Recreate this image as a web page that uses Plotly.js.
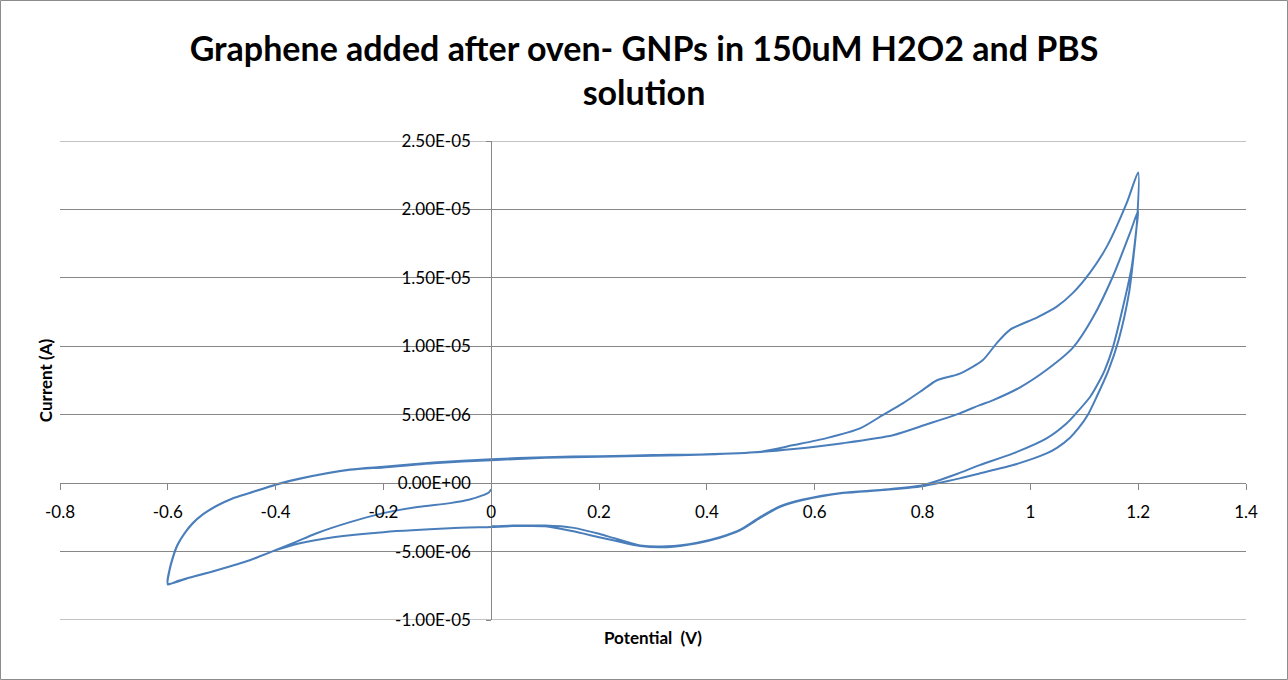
<!DOCTYPE html>
<html>
<head>
<meta charset="utf-8">
<script src="https://cdn.plot.ly/plotly-3.0.1.min.js"></script>
<style>
html,body{margin:0;padding:0;background:#fff;}
#chart{width:1288px;height:680px;}
</style>
</head>
<body>
<div id="chart"></div>
<script>
// Potential (V) and current (A), in scan order
var potential = [
  // initial scan from 0 V towards -0.6 V
  0.0, -0.005, -0.015, -0.04, -0.076, -0.137, -0.2, -0.262, -0.324, -0.368, -0.405, -0.448, -0.509, -0.559, -0.585, -0.6,
  // cycle 1 forward scan
  -0.597, -0.591, -0.582, -0.569, -0.554, -0.535, -0.51, -0.48, -0.448, -0.398, -0.355, -0.262, -0.2, -0.107, 0.0, 0.1, 0.2, 0.3, 0.4, 0.5,
  0.561, 0.622, 0.684, 0.726, 0.764, 0.8, 0.826, 0.869, 0.912, 0.937, 0.962, 1.012, 1.049, 1.079, 1.111, 1.142, 1.179, 1.2,
  // cycle 1 reverse scan
  1.198, 1.192, 1.183, 1.164, 1.145, 1.123, 1.107, 1.09, 1.073, 1.05, 1.03, 0.968, 0.906, 0.869, 0.8, 0.726, 0.652, 0.578, 0.535, 0.498, 0.462,
  0.424, 0.382, 0.326, 0.276, 0.226, 0.2, 0.15, 0.1, 0.041, 0.0, -0.077, -0.2, -0.293, -0.355, -0.405, -0.448, -0.509, -0.559, -0.6,
  // cycle 2 forward scan
  -0.597, -0.591, -0.582, -0.569, -0.554, -0.535, -0.51, -0.48, -0.448, -0.398, -0.355, -0.262, -0.2, -0.107, 0.0, 0.1, 0.2, 0.3, 0.4, 0.5,
  0.561, 0.652, 0.745, 0.808, 0.869, 0.906, 0.93, 0.981, 1.031, 1.079, 1.116, 1.153, 1.185, 1.2,
  // cycle 2 reverse scan
  1.197, 1.188, 1.172, 1.153, 1.138, 1.129, 1.111, 1.083, 1.067, 1.03, 0.968, 0.906, 0.869, 0.8, 0.726, 0.652, 0.578, 0.535, 0.498, 0.462,
  0.424, 0.382, 0.326, 0.276, 0.226, 0.2, 0.15, 0.1, 0.041, 0.0
];
var current = [
  -0.45e-6, -0.7e-6, -0.88e-6, -1.2e-6, -1.46e-6, -1.75e-6, -2.19e-6, -2.85e-6, -3.66e-6, -4.39e-6, -4.97e-6, -5.63e-6, -6.36e-6, -6.9e-6, -7.2e-6, -7.4e-6,
  -6.4e-6, -5.5e-6, -4.53e-6, -3.68e-6, -2.95e-6, -2.29e-6, -1.68e-6, -1.12e-6, -0.71e-6, -0.07e-6, 0.34e-6, 1.0e-6, 1.2e-6, 1.5e-6, 1.75e-6, 1.9e-6, 1.97e-6, 2.05e-6, 2.12e-6, 2.3e-6,
  2.78e-6, 3.29e-6, 4.0e-6, 4.97e-6, 5.85e-6, 6.8e-6, 7.5e-6, 8.0e-6, 9.0e-6, 10.2e-6, 11.2e-6, 12.1e-6, 12.9e-6, 13.9e-6, 15.4e-6, 17.3e-6, 20.5e-6, 22.7e-6,
  19.2e-6, 16.8e-6, 13.9e-6, 10.5e-6, 8.26e-6, 6.31e-6, 5.02e-6, 4.05e-6, 3.3e-6, 2.6e-6, 2.17e-6, 1.32e-6, 0.71e-6, 0.35e-6, -0.22e-6, -0.51e-6, -0.73e-6, -1.24e-6, -1.75e-6, -2.56e-6, -3.44e-6,
  -4.0e-6, -4.39e-6, -4.68e-6, -4.6e-6, -4.17e-6, -3.95e-6, -3.5e-6, -3.15e-6, -3.14e-6, -3.2e-6, -3.3e-6, -3.58e-6, -3.95e-6, -4.39e-6, -4.97e-6, -5.63e-6, -6.36e-6, -6.9e-6, -7.35e-6,
  -6.35e-6, -5.45e-6, -4.5e-6, -3.66e-6, -2.93e-6, -2.28e-6, -1.67e-6, -1.12e-6, -0.72e-6, -0.1e-6, 0.32e-6, 0.97e-6, 1.15e-6, 1.45e-6, 1.68e-6, 1.85e-6, 1.93e-6, 2.0e-6, 2.1e-6, 2.28e-6,
  2.49e-6, 2.92e-6, 3.5e-6, 4.3e-6, 5.1e-6, 5.7e-6, 6.05e-6, 7.0e-6, 8.3e-6, 9.9e-6, 12.1e-6, 15.1e-6, 18.3e-6, 19.9e-6,
  18.7e-6, 15.8e-6, 12.9e-6, 9.9e-6, 8.26e-6, 7.53e-6, 6.31e-6, 5.02e-6, 4.36e-6, 3.27e-6, 2.17e-6, 1.32e-6, 0.75e-6, -0.15e-6, -0.48e-6, -0.7e-6, -1.2e-6, -1.7e-6, -2.5e-6, -3.4e-6,
  -3.95e-6, -4.35e-6, -4.62e-6, -4.55e-6, -4.0e-6, -3.7e-6, -3.25e-6, -3.1e-6, -3.1e-6, -3.15e-6
];

var xTickVals = [-0.8, -0.6, -0.4, -0.2, 0, 0.2, 0.4, 0.6, 0.8, 1, 1.2, 1.4];
var xTickText = ["-0.8", "-0.6", "-0.4", "-0.2", "0", "0.2", "0.4", "0.6", "0.8", "1", "1.2", "1.4"];
var yTickVals = [-1.0e-5, -5.0e-6, 0, 5.0e-6, 1.0e-5, 1.5e-5, 2.0e-5, 2.5e-5];
var yTickText = ["-1.00E-05", "-5.00E-06", "0.00E+00", "5.00E-06", "1.00E-05", "1.50E-05", "2.00E-05", "2.50E-05"];

var xRange = [-0.8, 1.4];
var yRange = [-1.0e-5, 2.5e-5];

var W = 1288, H = 680;
var M = {l: 60, r: 42, t: 141, b: 60};
var pw = W - M.l - M.r, ph = H - M.t - M.b;

var font = "Lato, 'Open Sans', sans-serif";
var grid = "#878787";

var trace = {
  x: potential,
  y: current,
  type: "scatter",
  mode: "lines",
  line: {color: "#4a7ebb", width: 2, shape: "spline", smoothing: 0.7},
  hoverinfo: "x+y",
  showlegend: false
};

// gridlines at the two range ends (Plotly drops gridlines lying on the plot edges)
var edgeGrid = [yRange[0], yRange[1]].map(function (v) {
  return {type: "line", xref: "paper", yref: "y", x0: 0, x1: 1, y0: v, y1: v,
          line: {color: grid, width: 1}, layer: "below"};
});

var layout = {
  width: W, height: H,
  margin: M,
  paper_bgcolor: "#ffffff",
  plot_bgcolor: "#ffffff",
  font: {family: font, color: "#000000", size: 17},
  title: {
    text: "Graphene added after oven- GNPs in 150uM H2O2 and PBS<br>solution",
    font: {family: font, size: 34, weight: "bold", color: "#000"},
    x: 0.5, xref: "container", xanchor: "center",
    y: 1 - 61 / H, yref: "container", yanchor: "top"
  },
  xaxis: {
    range: xRange,
    anchor: "free",
    position: (0 - yRange[0]) / (yRange[1] - yRange[0]),
    showgrid: false,
    zeroline: false,
    showline: true, linecolor: grid, linewidth: 1,
    ticks: "outside", ticklen: 6, tickcolor: grid, tickwidth: 1,
    tickmode: "array", tickvals: xTickVals, ticktext: xTickText,
    ticklabelstandoff: 7,
    tickfont: {family: font, size: 17, color: "#000"},
    title: {text: "Potential  (V)", font: {family: font, size: 17, weight: "bold"}, standoff: 111},
    fixedrange: true
  },
  yaxis: {
    range: yRange,
    anchor: "free",
    position: (0 - xRange[0]) / (xRange[1] - xRange[0]),
    showgrid: true, gridcolor: grid, gridwidth: 1,
    zeroline: false,
    showline: true, linecolor: grid, linewidth: 1,
    ticks: "outside", ticklen: 5, tickcolor: grid, tickwidth: 1,
    tickmode: "array", tickvals: yTickVals, ticktext: yTickText,
    ticklabelstandoff: 12,
    tickfont: {family: font, size: 17, color: "#000"},
    title: {text: "Current (A)", font: {family: font, size: 17, weight: "bold"}, standoff: 337},
    fixedrange: true
  },
  shapes: [{
    type: "rect", xref: "paper", yref: "paper",
    x0: (0.5 - M.l) / pw, x1: (W - 0.5 - M.l) / pw,
    y0: -(M.b - 0.5) / ph, y1: 1 + (M.t - 0.5) / ph,
    line: {color: "#8c8c8c", width: 1}, fillcolor: "rgba(0,0,0,0)", layer: "below"
  }].concat(edgeGrid)
};

Plotly.newPlot("chart", [trace], layout, {displayModeBar: false, staticPlot: true});
</script>
</body>
</html>
